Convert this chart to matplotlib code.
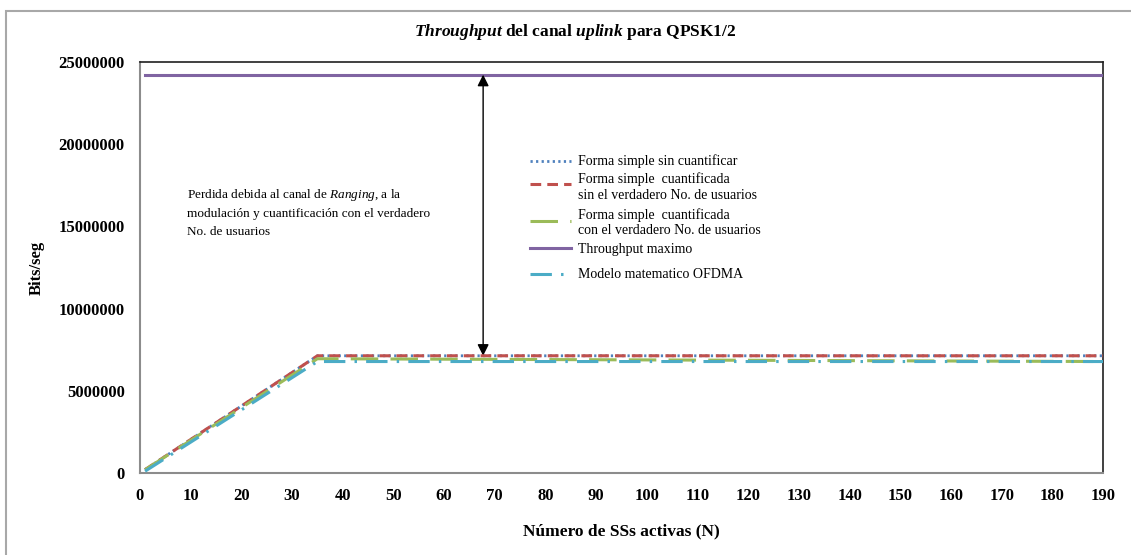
import matplotlib
matplotlib.use('Agg')
import matplotlib.pyplot as plt
from matplotlib.patches import Rectangle
from matplotlib.lines import Line2D

plt.rcParams['font.family'] = 'Liberation Serif'
plt.rcParams['mathtext.fontset'] = 'custom'
plt.rcParams['mathtext.rm'] = 'Liberation Serif'
plt.rcParams['mathtext.it'] = 'Liberation Serif:italic'
plt.rcParams['mathtext.bf'] = 'Liberation Serif:bold'
plt.rcParams['mathtext.bfit'] = 'Liberation Serif:italic:bold'

# datos
n_sin = [1, 35, 190]
thr_sin = [203000, 7130000, 7130000]
n_cuant_sin = [1, 35, 190]
thr_cuant_sin = [203000, 7130000, 7130000]
n_cuant_con = [1, 35, 190]
thr_cuant_con = [200000, 6950000, 6780000]
n_max = [1, 190]
thr_max = [24230000, 24230000]
n_ofdma = [1, 35, 190]
thr_ofdma = [110000, 6780000, 6780000]

labels = ['Forma simple sin cuantificar',
          'Forma simple  cuantificada\nsin el verdadero No. de usuarios',
          'Forma simple  cuantificada\ncon el verdadero No. de usuarios',
          'Throughput maximo',
          'Modelo matematico OFDMA']

x_ticks = list(range(0, 191, 10))
y_ticks = list(range(0, 25000001, 5000000))

W, H = 1131, 555
fig = plt.figure(figsize=(W / 100, H / 100), dpi=100, facecolor='white')

# marco exterior del grafico (tipo Excel)
fig.patches.append(Rectangle((6 / W, -0.2), 1.2, 1.2 - 11 / H,
                             transform=fig.transFigure, fill=False,
                             edgecolor='#a8a8a8', linewidth=1.5))

ax = fig.add_axes([140 / W, 1 - 473 / H, 963 / W, 411 / H])

estilos = [
    dict(color='#4F81BD', lw=2, linestyle=(0, (0.8, 1.2)), zorder=3),
    dict(color='#C0504D', lw=2.2, linestyle=(0, (3.5, 2)), zorder=4),
    dict(color='#9BBB59', lw=2.2, linestyle=(0, (9, 4)), zorder=5),
    dict(color='#8064A2', lw=2.2, linestyle='-', zorder=3),
    dict(color='#4BACC6', lw=2.2, linestyle=(0, (7, 3, 0.8, 3)), zorder=6),
]
series = [(n_sin, thr_sin), (n_cuant_sin, thr_cuant_sin), (n_cuant_con, thr_cuant_con),
          (n_max, thr_max), (n_ofdma, thr_ofdma)]

for (xs, ys), est, lab in zip(series, estilos, labels):
    ax.plot(xs, ys, label=lab, **est)

# flecha de perdida
ax.annotate('', xy=(67.7, thr_max[0]), xytext=(67.7, thr_cuant_sin[-1]),
            arrowprops=dict(arrowstyle='<|-|>', color='black', lw=1,
                            mutation_scale=17, shrinkA=0, shrinkB=0))

ax.text(9.2, 17400000,
        'Perdida debida al canal de $\\mathit{Ranging}$, a la\n'
        'modulación y cuantificación con el verdadero\n'
        'No. de usuarios',
        ha='left', va='top', fontsize=9.5, linespacing=1.6, color='black')

ax.set_xlim(0, 190)
ax.set_ylim(0, 25000000)
ax.set_xticks(x_ticks)
ax.set_yticks(y_ticks)
ax.set_xticklabels([str(v) for v in x_ticks], fontweight='bold', fontsize=12)
ax.set_yticklabels([str(v) for v in y_ticks], fontweight='bold', fontsize=12)
ax.tick_params(length=0, pad=11)

for s in ['left', 'bottom']:
    ax.spines[s].set_color('#8c8c8c')
    ax.spines[s].set_linewidth(1.5)
for s in ['top', 'right']:
    ax.spines[s].set_color('#202020')
    ax.spines[s].set_linewidth(1.2)

ax.set_xlabel('Número de SSs activas (N)', fontweight='bold', fontsize=12.5, labelpad=14)
ax.set_ylabel('Bits/seg', fontweight='bold', fontsize=12, labelpad=10)

fig.text(575 / W, 1 - 32 / H,
         '$\\mathbfit{Throughput}$ del canal $\\mathbfit{uplink}$ para QPSK1/2',
         ha='center', va='center', fontsize=12.5, fontweight='bold')

# leyenda (posiciones en pixeles de la figura)
handle_y = [161, 184, 221, 248, 274]
text_y = [161, 187, 222.5, 249, 275]
for est, lab, hy, ty in zip(estilos, labels, handle_y, text_y):
    est_leg = {k: v for k, v in est.items() if k != 'zorder'}
    fig.add_artist(Line2D([530 / W, 571 / W], [1 - hy / H, 1 - hy / H],
                          transform=fig.transFigure, **est_leg))
    fig.text(578 / W, 1 - ty / H, lab, ha='left', va='center',
             fontsize=10, linespacing=1.25)

plt.savefig('out.png', dpi=100, facecolor='white')
plt.close()
